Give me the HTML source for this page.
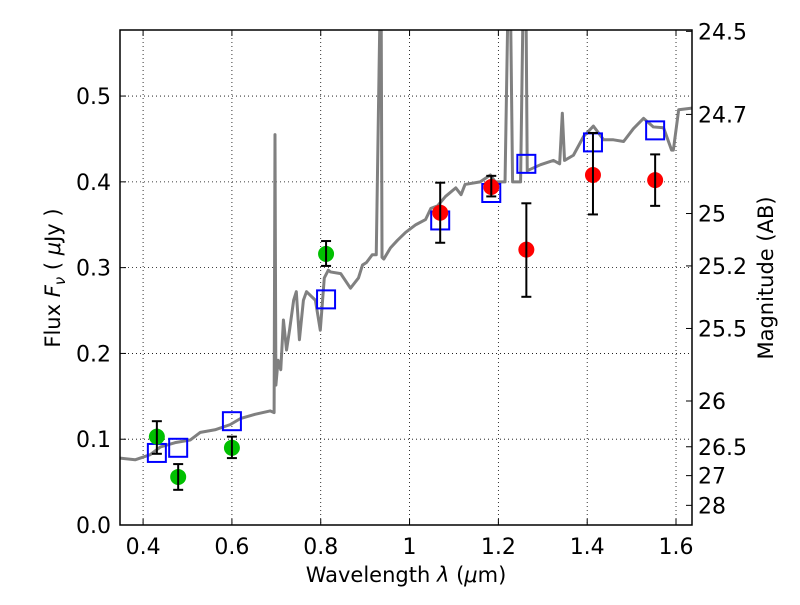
<!DOCTYPE html>
<html><head><meta charset="utf-8"><style>
body{margin:0;background:#fff}
svg text{font-family:"DejaVu Sans","Liberation Sans",sans-serif;fill:#000}
</style></head><body>
<svg id="c" width="800" height="600" xmlns="http://www.w3.org/2000/svg"></svg>
<script>
const specLam=[0.348,0.382,0.416,0.439,0.472,0.506,0.529,0.562,0.596,0.619,0.652,0.686,0.695,0.697,0.699,0.704,0.71,0.716,0.723,0.73,0.739,0.745,0.752,0.761,0.768,0.788,0.799,0.808,0.817,0.822,0.845,0.867,0.885,0.894,0.903,0.916,0.925,0.934,0.936,0.938,0.942,0.957,0.973,0.991,1.014,1.036,1.048,1.063,1.081,1.104,1.116,1.125,1.159,1.182,1.193,1.215,1.222,1.227,1.232,1.238,1.25,1.256,1.262,1.265,1.295,1.324,1.338,1.344,1.349,1.369,1.392,1.414,1.437,1.459,1.482,1.504,1.527,1.549,1.572,1.59,1.594,1.606,1.636];
const specF=[0.078,0.076,0.082,0.091,0.096,0.099,0.108,0.111,0.117,0.124,0.129,0.133,0.131,0.455,0.163,0.192,0.181,0.239,0.204,0.228,0.262,0.272,0.216,0.262,0.272,0.262,0.227,0.288,0.297,0.295,0.293,0.276,0.288,0.303,0.306,0.315,0.315,0.62,0.62,0.312,0.31,0.323,0.332,0.341,0.35,0.356,0.369,0.372,0.383,0.393,0.385,0.397,0.4,0.408,0.4,0.4,0.62,0.62,0.4,0.4,0.4,0.62,0.62,0.413,0.42,0.425,0.421,0.48,0.425,0.431,0.453,0.465,0.449,0.449,0.447,0.462,0.474,0.464,0.463,0.437,0.437,0.484,0.486];
const greenLam=[0.431,0.479,0.60,0.812];
const greenF=[0.103,0.056,0.090,0.316];
const greenLo=[0.083,0.041,0.078,0.302];
const greenHi=[0.121,0.071,0.103,0.331];
const redLam=[1.069,1.184,1.263,1.413,1.553];
const redF=[0.364,0.394,0.321,0.408,0.402];
const redLo=[0.329,0.383,0.266,0.362,0.372];
const redHi=[0.399,0.407,0.375,0.457,0.432];
const sqLam=[0.431,0.479,0.60,0.812,1.069,1.184,1.263,1.413,1.553];
const sqF=[0.084,0.090,0.121,0.263,0.355,0.387,0.421,0.446,0.460];
const xTicks=[0.4,0.6,0.8,1,1.2,1.4,1.6];
const xTickLabels=["0.4","0.6","0.8","1","1.2","1.4","1.6"];
const yTicks=[0,0.1,0.2,0.3,0.4,0.5];
const yTickLabels=["0.0","0.1","0.2","0.3","0.4","0.5"];
const magTicks=[24.5,24.7,25,25.2,25.5,26,26.5,27,28];
const magTickLabels=["24.5","24.7","25","25.2","25.5","26","26.5","27","28"];

const L=120,R=692,T=30,B=525,x0=0.348,x1=1.636,y0=0,y1=0.577;
const X=v=>L+(v-x0)/(x1-x0)*(R-L);
const Y=v=>B-(v-y0)/(y1-y0)*(B-T);
const svg=document.getElementById('c');
const NS='http://www.w3.org/2000/svg';
function mk(tag,attrs,parent){const e=document.createElementNS(NS,tag);for(const k in attrs)e.setAttribute(k,attrs[k]);(parent||svg).appendChild(e);return e;}
const defs=mk('defs',{});const cp=mk('clipPath',{id:'clip'},defs);mk('rect',{x:L,y:T,width:R-L,height:B-T},cp);

xTicks.forEach((t,i)=>{
 const g=mk('line',{x1:X(t),x2:X(t),y1:T,y2:B,stroke:'#000','stroke-width':0.8,'stroke-dasharray':'1,3'});
 
 
 mk('line',{x1:X(t),x2:X(t),y1:B,y2:B-6,stroke:'#000'});
 mk('line',{x1:X(t),x2:X(t),y1:T,y2:T+6,stroke:'#000'});
 const tx=mk('text',{x:X(t),y:B+29,'text-anchor':'middle','font-size':22});tx.textContent=xTickLabels[i];
 
 
});
yTicks.forEach((t,i)=>{
 const g=mk('line',{x1:L,x2:R,y1:Y(t),y2:Y(t),stroke:'#000','stroke-width':0.8,'stroke-dasharray':'1,3'});
 
 
 mk('line',{x1:L,x2:L+6,y1:Y(t),y2:Y(t),stroke:'#000'});
 const tx=mk('text',{x:L-9,y:Y(t)+8,'text-anchor':'end','font-size':22});tx.textContent=yTickLabels[i];
 
 
});
magTicks.forEach((m,i)=>{
 const f=Math.pow(10,(23.9-m)/2.5);const y=Y(f);
 mk('line',{x1:R,x2:R-6,y1:y,y2:y,stroke:'#000'});
 const tx=mk('text',{x:R+6,y:y+8,'font-size':22});tx.textContent=magTickLabels[i];
 
 
});

const g=mk('g',{'clip-path':'url(#clip)'});
const p=mk('polyline',{points:specLam.map((l,i)=>X(l)+','+Y(specF[i])).join(' '),fill:'none',stroke:'#808080','stroke-width':3,'stroke-linejoin':'round'},g);



sqLam.forEach((l,i)=>{
 const r=mk('rect',{x:X(l)-9,y:Y(sqF[i])-9,width:18,height:18,fill:'none',stroke:'#0000ff','stroke-width':2},g);
 
 
});
function pts(lam,F,lo,hi,col,name){
 lam.forEach((l,i)=>{
  const c=mk('circle',{cx:X(l),cy:Y(F[i]),r:8,fill:col},g);
  
  
  const e=mk('g',{stroke:'#000','stroke-width':2},g);
  
  
  mk('line',{x1:X(l),x2:X(l),y1:Y(lo[i]),y2:Y(hi[i])},e);
  mk('line',{x1:X(l)-5,x2:X(l)+5,y1:Y(lo[i]),y2:Y(lo[i])},e);
  mk('line',{x1:X(l)-5,x2:X(l)+5,y1:Y(hi[i]),y2:Y(hi[i])},e);
 });
}
pts(greenLam,greenF,greenLo,greenHi,'#00c000','green-data-point');
pts(redLam,redF,redLo,redHi,'#ff0000','red-data-point');

const fr=mk('rect',{x:L,y:T,width:R-L,height:B-T,fill:'none',stroke:'#000','stroke-width':1.5});


</script>
<svg width="800" height="600" style="position:absolute;left:0;top:0" xmlns="http://www.w3.org/2000/svg">
<text x="406" y="582" text-anchor="middle" font-size="21">Wavelength  <tspan font-style="italic">λ</tspan> (<tspan font-style="italic">μ</tspan>m)</text>
<text transform="translate(60,278) rotate(-90)" text-anchor="middle" font-size="21">Flux  <tspan font-style="italic">F</tspan><tspan font-style="italic" font-size="15" dy="5">ν</tspan><tspan dy="-5">  (  </tspan><tspan font-style="italic">μ</tspan>Jy )</text>
<text transform="translate(773,278) rotate(-90)" text-anchor="middle" font-size="21">Magnitude (AB)</text>
</svg>
</body></html>
